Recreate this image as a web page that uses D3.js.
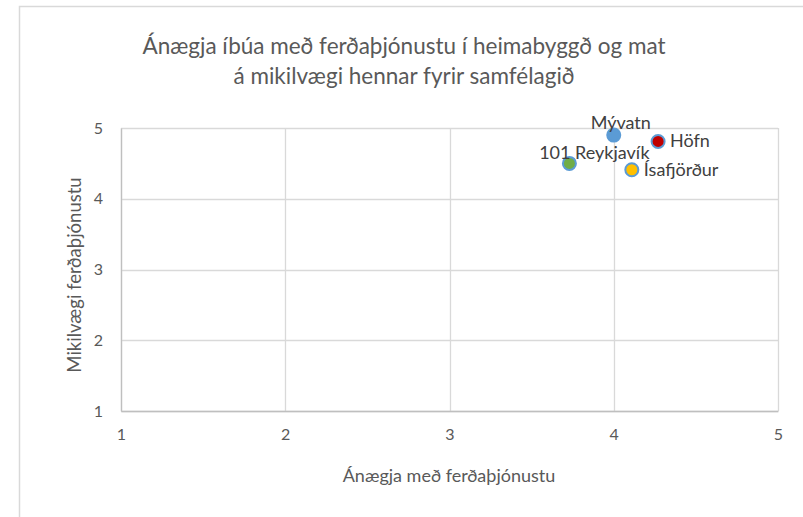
<!DOCTYPE html>
<html><head><meta charset="utf-8">
<script src="https://cdn.jsdelivr.net/npm/d3@7"></script>
<style>body{margin:0;background:#fff;} svg{display:block;font-family:Lato,"Open Sans",sans-serif;}</style>
</head><body>
<script>
const names = ["Mývatn", "Höfn", "101 Reykjavík", "Ísafjörður"];
const xValues = [4.0, 4.27, 3.73, 4.11];
const yValues = [4.9, 4.81, 4.5, 4.41];
const fills = ["#5B9BD5", "#C00000", "#70AD47", "#FFC000"];
const labelPos = ["above", "right", "aboveRight", "right"];
const xTicks = [1, 2, 3, 4, 5];
const yTicks = [1, 2, 3, 4, 5];
const titleLines = ["Ánægja íbúa með ferðaþjónustu í heimabyggð og mat", "á mikilvægi hennar fyrir samfélagið"];
const xTitle = "Ánægja með ferðaþjónustu";
const yTitle = "Mikilvægi ferðaþjónustu";

const W = 803, H = 517;
const svg = d3.select("body").append("svg").attr("width", W).attr("height", H);
svg.append("rect").attr("x", 19.5).attr("y", 6.5).attr("width", 800).attr("height", 520)
  .attr("fill", "#fff").attr("stroke", "#d9d9d9").attr("stroke-width", 1.5);

const x = d3.scaleLinear().domain([1, 5]).range([121, 778]);
const y = d3.scaleLinear().domain([1, 5]).range([411, 128]);

// grid
svg.append("g").selectAll("line").data(yTicks).join("line")
  .attr("x1", x(1)).attr("x2", x(5)).attr("y1", d => Math.round(y(d)) + 0.5).attr("y2", d => Math.round(y(d)) + 0.5)
  .attr("stroke", "#d9d9d9").attr("stroke-width", 1.3);
svg.append("g").selectAll("line").data(xTicks).join("line")
  .attr("y1", y(1)).attr("y2", y(5)).attr("x1", d => Math.round(x(d)) + 0.5).attr("x2", d => Math.round(x(d)) + 0.5)
  .attr("stroke", "#d9d9d9").attr("stroke-width", 1.3);

// axes
const xAxis = svg.append("g").attr("transform", `translate(0,${y(1)})`)
  .call(d3.axisBottom(x).tickValues(xTicks).tickSize(0).tickPadding(18).tickFormat(d3.format("d")));
xAxis.select(".domain").attr("stroke", "#bfbfbf").attr("stroke-width", 1.3);
xAxis.selectAll("text").attr("fill", "#595959").style("font-size", "16px").style("font-family", "Lato,'Open Sans',sans-serif");

const yAxis = svg.append("g").attr("transform", `translate(${x(1)},0)`)
  .call(d3.axisLeft(y).tickValues(yTicks).tickSize(0).tickPadding(18).tickFormat(d3.format("d")));
yAxis.select(".domain").attr("stroke", "#bfbfbf").attr("stroke-width", 1.3);
yAxis.selectAll("text").attr("fill", "#595959").style("font-size", "16px").style("font-family", "Lato,'Open Sans',sans-serif");

// titles
svg.append("g").selectAll("text").data(titleLines).join("text")
  .attr("x", 404).attr("y", (d, i) => 54 + i * 30).attr("text-anchor", "middle")
  .attr("fill", "#595959").style("font-size", "22.5px").text(d => d);
svg.append("text").attr("x", 449).attr("y", 482).attr("text-anchor", "middle")
  .attr("fill", "#595959").style("font-size", "18px").text(xTitle);
svg.append("text").attr("transform", "translate(81,275) rotate(-90)").attr("text-anchor", "middle")
  .attr("fill", "#595959").style("font-size", "18.5px").text(yTitle);

// points
const data = names.map((n, i) => ({n, x: xValues[i], y: yValues[i], f: fills[i], p: labelPos[i]}));
svg.append("g").selectAll("circle").data(data).join("circle")
  .attr("cx", d => x(d.x)).attr("cy", d => y(d.y)).attr("r", 6.5)
  .attr("fill", d => d.f).attr("stroke", "#5B9BD5").attr("stroke-width", 2);

svg.append("g").selectAll("text").data(data).join("text")
  .attr("x", d => d.p === "above" ? x(d.x) + 7 : d.p === "aboveRight" ? x(d.x) + 25 : x(d.x) + 12)
  .attr("y", d => d.p === "above" ? y(d.y) - 6 : d.p === "aboveRight" ? y(d.y) - 4 : y(d.y) + 6)
  .attr("text-anchor", d => d.p === "right" ? "start" : "middle")
  .attr("fill", "#404040").style("font-size", "18px").text(d => d.n);
</script>
</body></html>
